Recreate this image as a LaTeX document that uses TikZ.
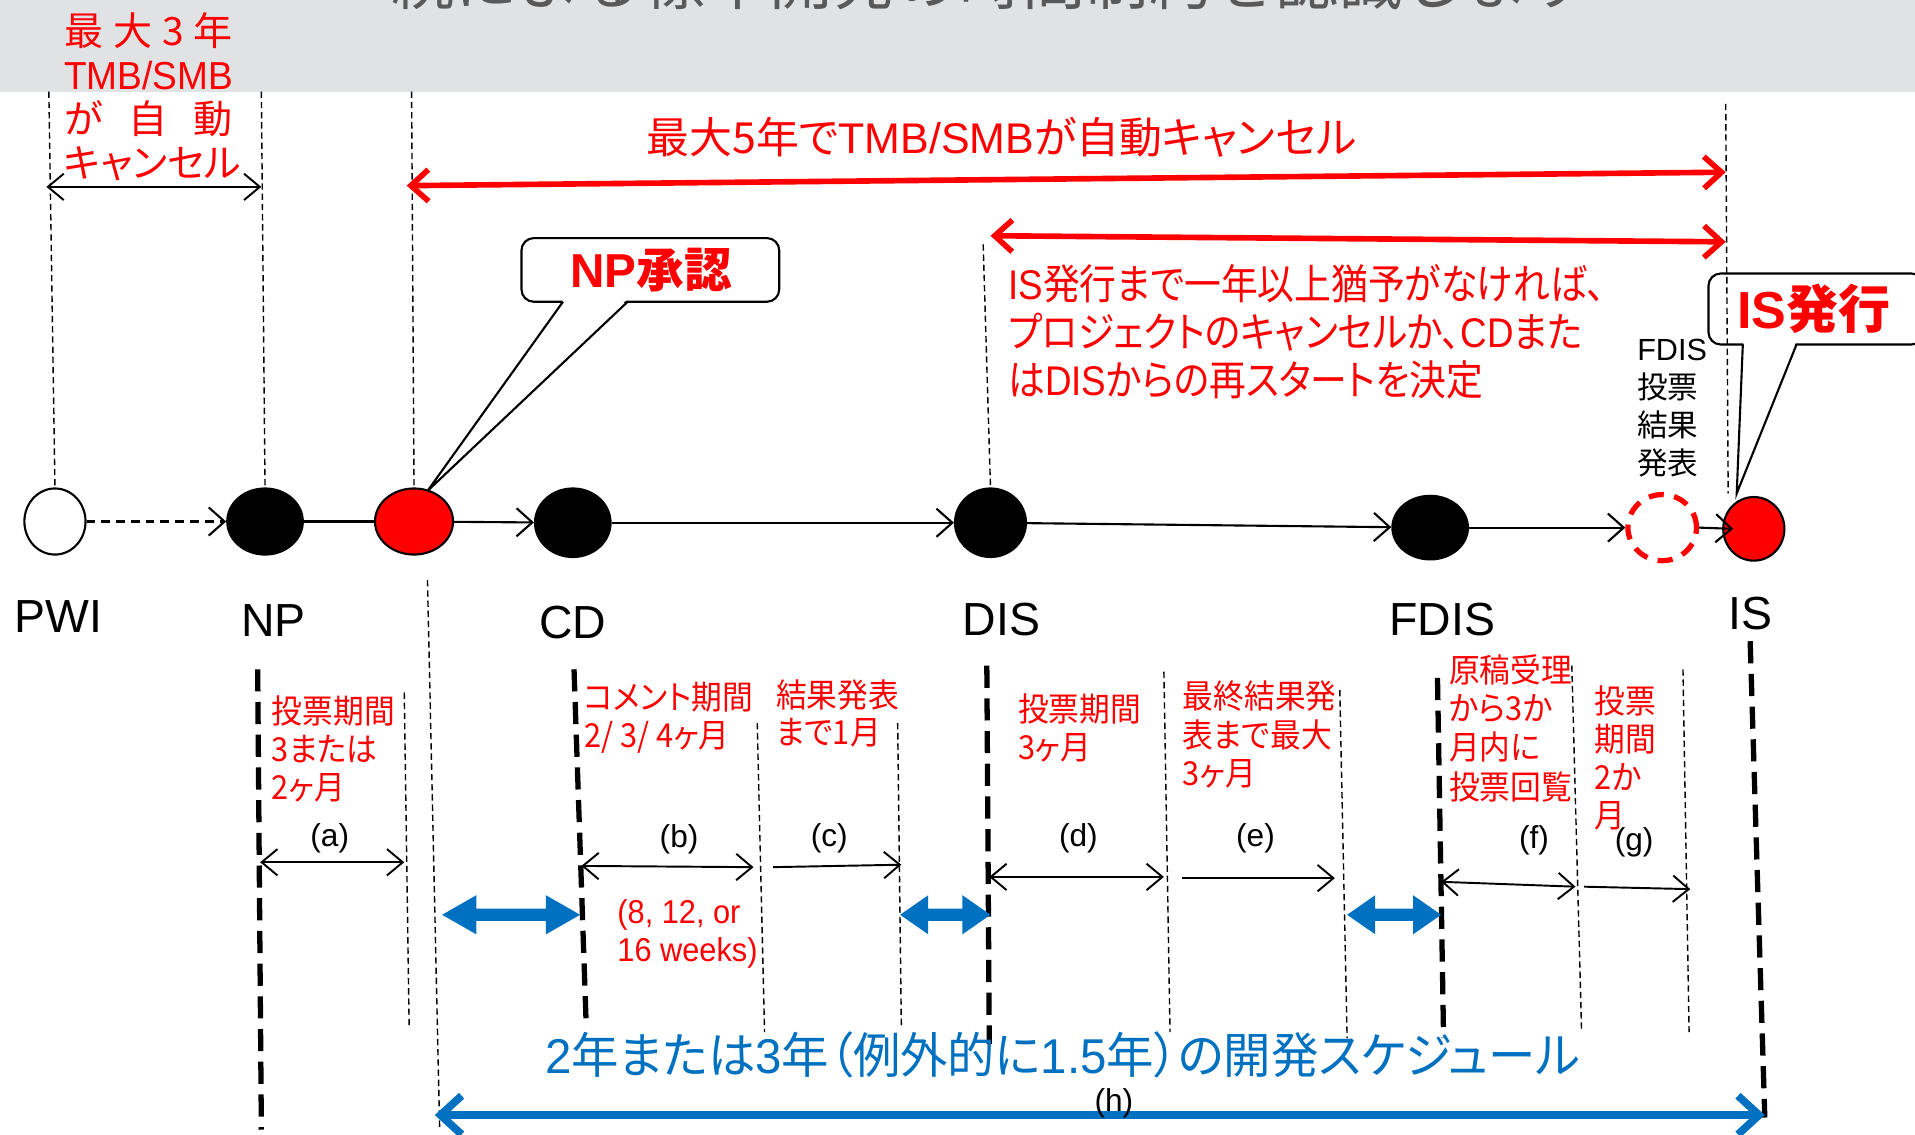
\documentclass[tikz,border=0pt]{standalone}
\usepackage{fontspec}
\usepackage{graphicx}
\setmainfont{Liberation Sans}
\newfontfamily\lat{Liberation Sans}
\newfontfamily\jp[RawFeature={+palt}]{Noto Sans CJK JP}
\newfontfamily\jpm{Noto Sans CJK JP}
\usetikzlibrary{arrows.meta,shapes.geometric,calc}
\definecolor{myred}{RGB}{255,0,0}
\definecolor{myblue}{RGB}{0,112,192}
\definecolor{bandgray}{RGB}{225,226,228}
\definecolor{titlegray}{RGB}{89,89,89}
\newcommand\fsz[2]{\fontsize{#1}{#2}\selectfont}
\newcommand\mlines[4]{\scalebox{#1}[1]{\fontsize{#2}{#3}\selectfont\begin{tabular}[t]{@{}l@{}}#4\end{tabular}}}
\newcommand\blockarrow[4]{%
  \fill[myblue] (#1,#3) -- (#1+#4,#3-16) -- (#1+#4,#3-5) -- (#2-#4,#3-5) -- (#2-#4,#3-16) -- (#2,#3)
   -- (#2-#4,#3+16) -- (#2-#4,#3+5) -- (#1+#4,#3+5) -- (#1+#4,#3+16) -- cycle;}
\tikzset{
  thindash/.style={line width=0.4pt, dash pattern=on 1.8pt off 1.1pt},
  thickdash/.style={line width=1.5pt, dash pattern=on 6.3pt off 3pt},
  thinarr/.style={line width=0.55pt, -{Straight Barb[length=4.5pt,width=7.5pt]}},
  thindbl/.style={line width=0.55pt, {Straight Barb[length=4.5pt,width=7.5pt]}-{Straight Barb[length=4.5pt,width=7.5pt]}},
  redarr/.style={draw=myred, line width=1.6pt, {Straight Barb[length=5pt,width=9pt]}-{Straight Barb[length=5pt,width=9pt]}},
  bluearr/.style={draw=myblue, line width=2.2pt, {Straight Barb[length=6pt,width=11pt]}-{Straight Barb[length=6pt,width=11pt]}},
  tlarr/.style={line width=0.6pt, -{Straight Barb[length=4.5pt,width=8pt]}},
  milestone/.style={ellipse, inner sep=0pt, line width=0.6pt, draw=black},
  lbl/.style={font=\lat\fsz{13.2pt}{15pt}, inner sep=0pt},
  sublbl/.style={font=\lat\fsz{9pt}{10pt}, inner sep=0pt},
  redml/.style={anchor=base west, inner sep=0pt, text=myred, font=\jp},
  callbox/.style={draw, line width=0.6pt, rounded corners=3.5pt, inner sep=0pt}
}
\begin{document}
\begin{tikzpicture}[x=0.012213cm, y=-0.012213cm]
\useasboundingbox (0,0) rectangle (1568,928.6);
\clip (0,0) rectangle (1568,928.6);
\fill[bandgray] (0,0) rectangle (1568,75);
\node[anchor=base west, inner sep=0pt, text=titlegray, font=\jpm\fsz{18pt}{20pt}] (title) at (320,4) {続による標準開発の時間制約を認識します};

% top-left red text
\begin{scope}[every node/.style={anchor=base west, inner sep=0pt, text=myred, font=\jp\fsz{11.1pt}{12.5pt}}]
\node (tl1) at (52,37) {\hbox to 48pt{最\hfil 大\hfil 3\hfil 年}};
\node (tl2) at (52,73) {\hbox to 48pt{\hss\lat\scalebox{0.95}[1]{TMB/SMB}\hss}};
\node (tl3) at (52,109) {\hbox to 48pt{が\hfil 自\hfil 動}};
\node (tl4) at (52,145) {\hbox to 48pt{キ\hfil ャ\hfil ン\hfil セ\hfil ル}};
\end{scope}

% milestones
\node[milestone, fill=white, minimum width=17.4pt, minimum height=18.8pt] (pwi) at (45,427) {};
\node[milestone, fill=black, minimum width=21.5pt, minimum height=18.8pt] (np) at (217,427) {};
\node[milestone, fill=myred, minimum width=22.2pt, minimum height=18.8pt] (npa) at (339,427) {};
\node[milestone, fill=black, minimum width=21.5pt, minimum height=19.5pt] (cd) at (469,428) {};
\node[milestone, fill=black, minimum width=20.2pt, minimum height=19.5pt] (dis) at (811,428) {};
\node[milestone, fill=black, minimum width=21.5pt, minimum height=18.1pt] (fdis) at (1171,432) {};
\node[ellipse, inner sep=0pt, draw=myred, line width=1.5pt, dash pattern=on 4.3pt off 3pt, minimum width=19.5pt, minimum height=18.8pt] (fvote) at (1361,432) {};
\node[milestone, fill=myred, minimum width=17.4pt, minimum height=18.1pt] (is) at (1436,433) {};

% top dashed verticals
\coordinate (v1) at (40,75);
\coordinate (v2) at (214,75);
\coordinate (v3) at (337,75);
\coordinate (v4) at (805,200);
\coordinate (v5t) at (1413,85);
\coordinate (v5b) at (1415,404);
\draw[thindash] (v1) -- (pwi.north);
\draw[thindash] (v2) -- (np.north);
\draw[thindash] (v3) -- (npa.north);
\draw[thindash] (v4) -- (dis.north);

% timeline connectors
\draw[tlarr, dash pattern=on 2.5pt off 1.7pt] (pwi) -- (np);
\draw[line width=0.6pt] (np) -- (npa);
\draw[tlarr] (npa) -- (cd);
\draw[tlarr] (cd) -- (dis);
\draw[tlarr] (dis) -- (fdis);
\draw[tlarr] (fdis) -- (fvote);
\draw[tlarr] (fvote.east) -- ($(is.west)+(9,0)$);

% top arrows
\coordinate (ka) at (38,153);
\coordinate (kb) at (214,153);
\draw[thindbl] (ka) -- (kb);
\coordinate (r1a) at (333,152);
\coordinate (r1b) at (1413,141);
\draw[redarr] (r1a) -- (r1b);
\coordinate (r2a) at (811,193);
\coordinate (r2b) at (1413,198);
\draw[redarr] (r2a) -- (r2b);
\node[inner sep=0pt, text=myred, font=\jp\fsz{12.2pt}{14pt}] (cancel5) at (820,112) {最大5年で{\lat TMB/SMB}が自動キャンセル};
\node[redml] (grace) at (825,245) {\mlines{0.886}{11.8pt}{12.7pt}{{\lat IS}発行まで一年以上猶予がなければ、\\プロジェクトのキャンセルか、{\lat CD}また\\は{\lat DIS}からの再スタートを決定}};

% NP callout
\node[callbox, fill=white, minimum width=73.3pt, minimum height=18.1pt] (npbox) at (532.5,221) {};
\coordinate (nptip) at (350,402);
\fill[white] (461.5,245) -- (nptip) -- (513.5,245) -- cycle;
\draw[line width=0.6pt] (461,247) -- (nptip) -- (514,247);
\node[inner sep=0pt, text=myred, font=\lat\bfseries\fsz{13.55pt}{15pt}] (nptxt) at (533,221) {NP{\jp\bfseries 承認}};

% IS callout
\node[callbox, fill=white, minimum width=61.2pt, minimum height=20.2pt] (isbox) at (1487,253) {};
\coordinate (istip) at (1422,404);
\fill[white] (1427.5,280) -- (istip) -- (1470.5,280) -- cycle;
\draw[line width=0.6pt] (1427,282) -- (istip) -- (1471,282);
\node[inner sep=0pt, text=myred, font=\lat\bfseries\fsz{14.8pt}{16pt}] (istxt) at (1485,253) {IS{\jp\bfseries 発行}};
\draw[thindash] (v5t) -- (v5b);

% FDIS vote result
\node[anchor=base west, inner sep=0pt, font=\jp] (fdisres) at (1340,295) {\mlines{1}{8.7pt}{10.8pt}{{\lat FDIS}\\投票\\結果\\発表}};

% milestone labels
\node[lbl] (lpwi) at (48,505) {PWI};
\node[lbl] (lnp) at (224,508) {NP};
\node[lbl] (lcd) at (469,510) {CD};
\node[lbl] (ldis) at (820,507) {DIS};
\node[lbl] (lfdis) at (1181,507) {FDIS};
\node[lbl] (lis) at (1433,502) {IS};

% lower thick dashed
\coordinate (T1a) at (211,548); \coordinate (T1b) at (214,925);
\coordinate (T2a) at (470,548); \coordinate (T2b) at (480,840);
\coordinate (T3a) at (808,545); \coordinate (T3b) at (810,855);
\coordinate (T4a) at (1177,555); \coordinate (T4b) at (1182,850);
\coordinate (T5a) at (1433,525); \coordinate (T5b) at (1445,915);
\foreach \n in {1,...,5} {\draw[thickdash] (T\n a) -- (T\n b);}

% lower thin dashed
\coordinate (S1a) at (350,475); \coordinate (S1b) at (360,925);
\coordinate (S2a) at (331,567); \coordinate (S2b) at (335,840);
\coordinate (S3a) at (620,592); \coordinate (S3b) at (626,845);
\coordinate (S4a) at (735,592); \coordinate (S4b) at (738,840);
\coordinate (S5a) at (953,550); \coordinate (S5b) at (958,845);
\coordinate (S6a) at (1097,565); \coordinate (S6b) at (1103,850);
\coordinate (S7a) at (1287,545); \coordinate (S7b) at (1295,845);
\coordinate (S8a) at (1378,548); \coordinate (S8b) at (1383,845);
\foreach \n in {1,...,8} {\draw[thindash] (S\n a) -- (S\n b);}

% lower red texts
\node[redml] (ta) at (222,592) {\mlines{0.93}{9.4pt}{10.9pt}{投票期間\\3または\\2ヶ月}};
\node[redml] (tb) at (478,581) {\mlines{0.93}{9.4pt}{10.8pt}{コメント期間\\2/ 3/ 4ヶ月}};
\node[redml] (tc) at (635,579) {\mlines{0.93}{9.4pt}{10.5pt}{結果発表\\まで1月}};
\node[redml] (td) at (833,591) {\mlines{0.93}{9.4pt}{10.8pt}{投票期間\\3ヶ月}};
\node[redml] (te) at (968,580) {\mlines{0.93}{9.4pt}{10.8pt}{最終結果発\\表まで最大\\3ヶ月}};
\node[redml] (tf) at (1186,559) {\mlines{0.93}{9.4pt}{10.8pt}{原稿受理\\から3か\\月内に\\投票回覧}};
\node[redml] (tg) at (1305,584) {\mlines{0.93}{9.4pt}{10.7pt}{投票\\期間\\2か\\月}};
\node[anchor=base west, inner sep=0pt, text=myred, font=\lat] (weeks) at (505,756) {\mlines{0.93}{9.4pt}{10.8pt}{(8, 12, or\\16 weeks)}};

% small arrows and letters
\coordinate (a1) at (213,706); \coordinate (a2) at (331,706);
\draw[thindbl] (a1) -- (a2);
\coordinate (b1) at (476,709); \coordinate (b2) at (617,710);
\draw[thindbl] (b1) -- (b2);
\coordinate (c1) at (633,710); \coordinate (c2) at (738,708);
\draw[thinarr] (c1) -- (c2);
\coordinate (d1) at (810,718); \coordinate (d2) at (953,718);
\draw[thindbl] (d1) -- (d2);
\coordinate (e1) at (968,719); \coordinate (e2) at (1093,719);
\draw[thinarr] (e1) -- (e2);
\coordinate (f1) at (1180,722); \coordinate (f2) at (1290,726);
\draw[thindbl] (f1) -- (f2);
\coordinate (g1) at (1297,726); \coordinate (g2) at (1384,728);
\draw[thinarr] (g1) -- (g2);
\node[sublbl] (la) at (270,686) {(a)};
\node[sublbl] (lb) at (556,687) {(b)};
\node[sublbl] (lc) at (679,686) {(c)};
\node[sublbl] (ld) at (883,686) {(d)};
\node[sublbl] (le) at (1028,686) {(e)};
\node[sublbl] (lf) at (1256,688) {(f)};
\node[sublbl] (lg) at (1338,690) {(g)};

% blue block arrows
\blockarrow{362}{475}{749}{28}
\blockarrow{737}{811}{749}{23}
\blockarrow{1103}{1180}{749}{23}

% schedule
\node[inner sep=0pt, text=myblue, font=\jp\fsz{13.9pt}{16pt}] (sched) at (870,864) {\scalebox{0.97}[1]{{\lat 2}年または{\lat 3}年（例外的に{\lat 1.5}年）の開発スケジュール}};
\coordinate (h1) at (356,913); \coordinate (h2) at (1445,913);
\draw[bluearr] (h1) -- (h2);
\node[sublbl] (lh) at (912,903) {(h)};
\end{tikzpicture}
\end{document}
